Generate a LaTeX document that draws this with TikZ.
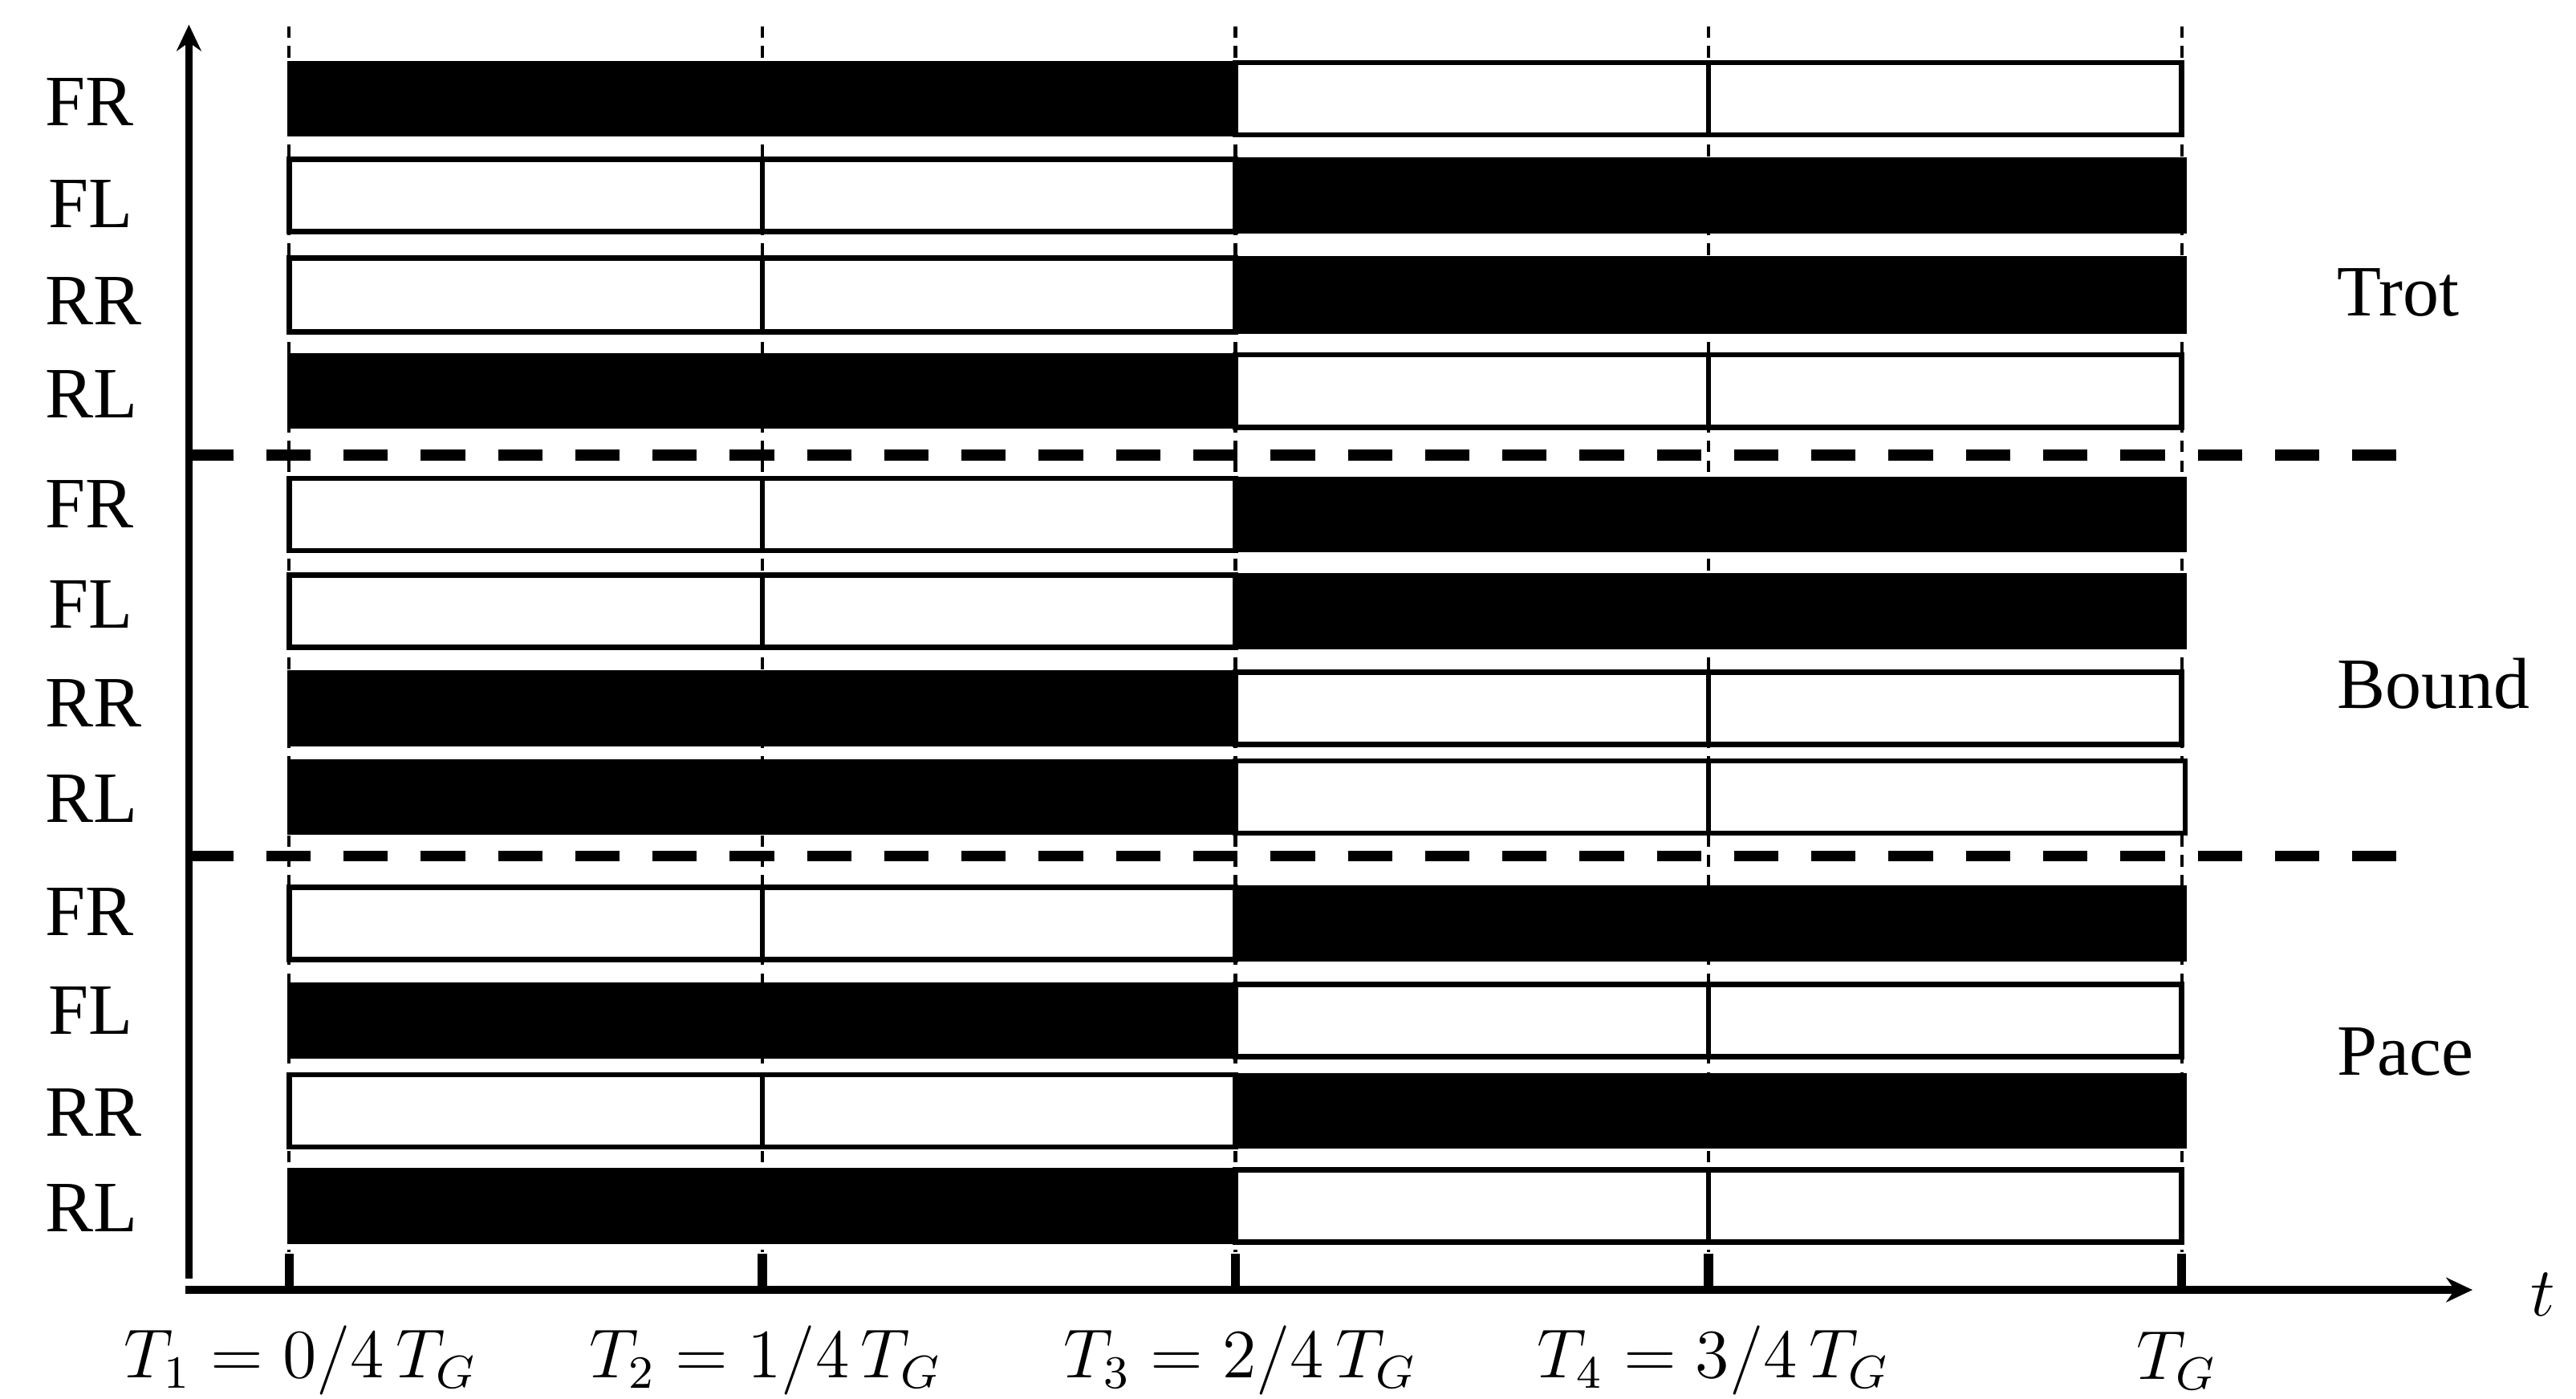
\documentclass[tikz,border=0pt]{standalone}
\usepackage{fontspec}
\setmainfont{Liberation Serif}
\usetikzlibrary{arrows.meta}

\begin{document}
\begin{tikzpicture}[x=0.01cm,y=-0.01cm,
  font=\fontsize{12.5}{15}\selectfont,
  leg/.style={anchor=west,inner sep=0pt},
  gait/.style={anchor=west,inner sep=0pt},
  phase/.style={font=\fontsize{12}{14}\selectfont},
  stance/.style={fill=black,draw=black,line width=0.6pt},
  swing/.style={fill=white,draw=black,line width=0.9pt},
  grid/.style={line width=0.6pt,dash pattern=on 0.07cm off 0.05cm},
  split/.style={line width=1.9pt,dash pattern=on 0.27cm off 0.2cm},
  axis/.style={line width=1.3pt,-{Stealth[length=0.16cm,width=0.15cm]}},
  tick/.style={line width=1.6pt}]
\useasboundingbox (0,0) rectangle (1568,851);
% phase grid
\draw[grid] (176,16) -- (176,762);
\draw[grid] (464,16) -- (464,762);
\draw[grid] (752,16) -- (752,762);
\draw[grid] (1040,16) -- (1040,762);
\draw[grid] (1328,16) -- (1328,762);
% axes
\coordinate (yorig) at (115,778);
\coordinate (ytip) at (115,15);
\coordinate (xorig) at (113,785);
\coordinate (xtip) at (1505,785);
\draw[axis] (yorig) -- (ytip);
\draw[axis] (xorig) -- (xtip);
\node (tlab) at (1548,788) {$t$};
\draw[tick] (176,763) -- (176,785);
\draw[tick] (464,763) -- (464,785);
\draw[tick] (752,763) -- (752,785);
\draw[tick] (1040,763) -- (1040,785);
\draw[tick] (1328,763) -- (1328,785);
% gait separators
\draw[split] (115,277) -- (1460,277);
\draw[split] (115,521) -- (1460,521);
% trot
\draw[stance] (176,38) rectangle (752,82);
\draw[swing] (752,38) rectangle (1040,82);
\draw[swing] (1040,38) rectangle (1328,82);
\draw[swing] (176,97) rectangle (464,141);
\draw[swing] (464,97) rectangle (752,141);
\draw[stance] (752,97) rectangle (1330,141);
\draw[swing] (176,157) rectangle (464,202);
\draw[swing] (464,157) rectangle (752,202);
\draw[stance] (752,157) rectangle (1330,202);
\draw[stance] (176,216) rectangle (752,260);
\draw[swing] (752,216) rectangle (1040,260);
\draw[swing] (1040,216) rectangle (1328,260);
% bound
\draw[swing] (176,291) rectangle (464,335);
\draw[swing] (464,291) rectangle (752,335);
\draw[stance] (752,291) rectangle (1330,335);
\draw[swing] (176,350) rectangle (464,394);
\draw[swing] (464,350) rectangle (752,394);
\draw[stance] (752,350) rectangle (1330,394);
\draw[stance] (176,409) rectangle (752,453);
\draw[swing] (752,409) rectangle (1040,453);
\draw[swing] (1040,409) rectangle (1328,453);
\draw[stance] (176,463) rectangle (752,507);
\draw[swing] (752,463) rectangle (1040,507);
\draw[swing] (1040,463) rectangle (1330,507);
% pace
\draw[swing] (176,540) rectangle (464,584);
\draw[swing] (464,540) rectangle (752,584);
\draw[stance] (752,540) rectangle (1330,584);
\draw[stance] (176,599) rectangle (752,643);
\draw[swing] (752,599) rectangle (1040,643);
\draw[swing] (1040,599) rectangle (1328,643);
\draw[swing] (176,654) rectangle (464,698);
\draw[swing] (464,654) rectangle (752,698);
\draw[stance] (752,654) rectangle (1330,698);
\draw[stance] (176,712) rectangle (752,756);
\draw[swing] (752,712) rectangle (1040,756);
\draw[swing] (1040,712) rectangle (1328,756);
% leg labels
\node[leg] (trotFR) at (27,62) {FR};
\node[leg] (trotFL) at (29,124) {FL};
\node[leg] (trotRR) at (27,183) {RR};
\node[leg] (trotRL) at (27,240) {RL};
\node[leg] (boundFR) at (27,307) {FR};
\node[leg] (boundFL) at (29,368) {FL};
\node[leg] (boundRR) at (27,428) {RR};
\node[leg] (boundRL) at (27,486) {RL};
\node[leg] (paceFR) at (27,555) {FR};
\node[leg] (paceFL) at (29,615) {FL};
\node[leg] (paceRR) at (27,677) {RR};
\node[leg] (paceRL) at (27,735) {RL};
% gait names
\node[gait] (trot) at (1422,178) {Trot};
\node[gait] (bound) at (1422,416) {Bound};
\node[gait] (pace) at (1422,640) {Pace};
% phase labels
\node[phase] (T1) at (183,828) {$T_1 = 0/4\,T_G$};
\node[phase] (T2) at (466,828) {$T_2 = 1/4\,T_G$};
\node[phase] (T3) at (755,828) {$T_3 = 2/4\,T_G$};
\node[phase] (T4) at (1043,828) {$T_4 = 3/4\,T_G$};
\node[phase] (TG) at (1325,828) {$T_G$};
\end{tikzpicture}
\end{document}
